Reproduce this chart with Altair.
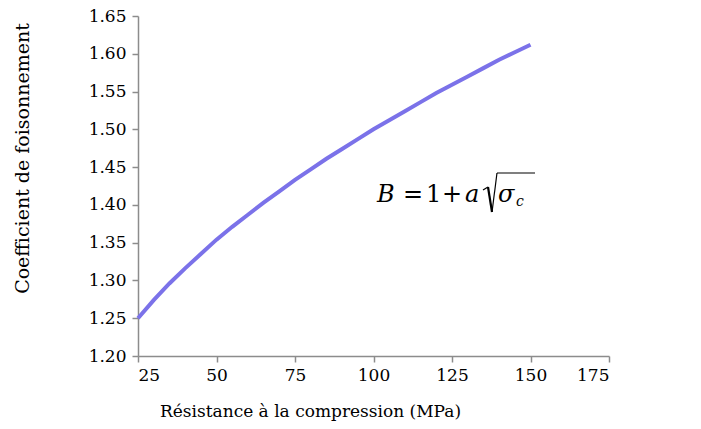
import altair as alt
import pandas as pd

resistance = [25, 30, 35, 40, 45, 50, 55, 60, 65, 70, 75, 80, 85, 90, 95, 100,
              105, 110, 115, 120, 125, 130, 135, 140, 145, 150]
coefficient = [1.250, 1.274, 1.296, 1.316, 1.335, 1.354, 1.371, 1.387, 1.403, 1.418,
               1.433, 1.447, 1.461, 1.474, 1.487, 1.500, 1.512, 1.524, 1.536, 1.548,
               1.559, 1.570, 1.581, 1.592, 1.602, 1.612]
x_ticks = [25, 50, 75, 100, 125, 150, 175]
y_ticks = [1.20, 1.25, 1.30, 1.35, 1.40, 1.45, 1.50, 1.55, 1.60, 1.65]

df = pd.DataFrame({"x": resistance, "y": coefficient})

FONT = "DejaVu Serif"
AXIS_GRAY = "#8c8c8c"

line = alt.Chart(df).mark_line(color="#7b72e9", strokeWidth=4).encode(
    x=alt.X("x:Q", scale=alt.Scale(domain=[25, 175], nice=False, zero=False),
            axis=alt.Axis(values=x_ticks, title="Résistance à la compression (MPa)",
                          grid=False, domainColor=AXIS_GRAY, tickColor=AXIS_GRAY,
                          domainWidth=1.5, tickWidth=1.5, tickSize=6,
                          labelFont=FONT, labelFontSize=17, labelColor="black",
                          labelPadding=5,
                          titleFont=FONT, titleFontSize=17, titleFontWeight="normal",
                          titleColor="black", titleX=172, titleY=55,
                          titleAlign="center", titleBaseline="middle")),
    y=alt.Y("y:Q", scale=alt.Scale(domain=[1.20, 1.65], nice=False, zero=False),
            axis=alt.Axis(values=y_ticks, format=".2f", title="Coefficient de foisonnement",
                          grid=False, domainColor=AXIS_GRAY, tickColor=AXIS_GRAY,
                          domainWidth=1.5, tickWidth=1.5, tickSize=6,
                          labelFont=FONT, labelFontSize=17, labelColor="black",
                          labelPadding=6,
                          titleFont=FONT, titleFontSize=19, titleFontWeight="normal",
                          titleColor="black", titleX=-116, titleY=142,
                          titleAlign="center", titleBaseline="middle")),
)

# Formula annotation pieces: B = 1 + a √σ_c
pieces = [
    ("B", 239, 186, "italic", 24),
    ("=", 265, 186, "normal", 24),
    ("1", 288, 186, "normal", 24),
    ("+", 304, 186, "normal", 24),
    ("a", 327, 186, "italic", 24),
    ("σ", 360, 186, "italic", 24),
    ("c", 378, 190, "italic", 14),
]
text_layers = []
for txt, px, py, style, size in pieces:
    text_layers.append(
        alt.Chart(pd.DataFrame({"t": [txt]})).mark_text(
            font=FONT, fontStyle=style, fontSize=size, color="black",
            align="left", baseline="alphabetic"
        ).encode(text="t:N", x=alt.value(px), y=alt.value(py))
    )

# radical sign drawn as strokes
segs = [
    (345, 174, 350, 171, 1.2),
    (350, 171, 354, 196, 2.2),
    (354, 196, 359, 157, 1.2),
    (359, 157, 397, 157, 1.2),
]
rad_layers = []
for x1, y1, x2, y2, w in segs:
    rad_layers.append(
        alt.Chart(pd.DataFrame({"a": [0]})).mark_rule(color="black", strokeWidth=w).encode(
            x=alt.value(x1), y=alt.value(y1), x2=alt.value(x2), y2=alt.value(y2)
        )
    )

chart = alt.layer(line, *rad_layers, *text_layers).properties(
    width=471, height=340,
    autosize=alt.AutoSizeParams(type="none"),
    padding={"left": 130, "top": 8, "right": 84, "bottom": 65},
    background="white",
).configure_view(stroke=None)

chart.save("out.html", embed_options={"renderer": "svg", "actions": False})
